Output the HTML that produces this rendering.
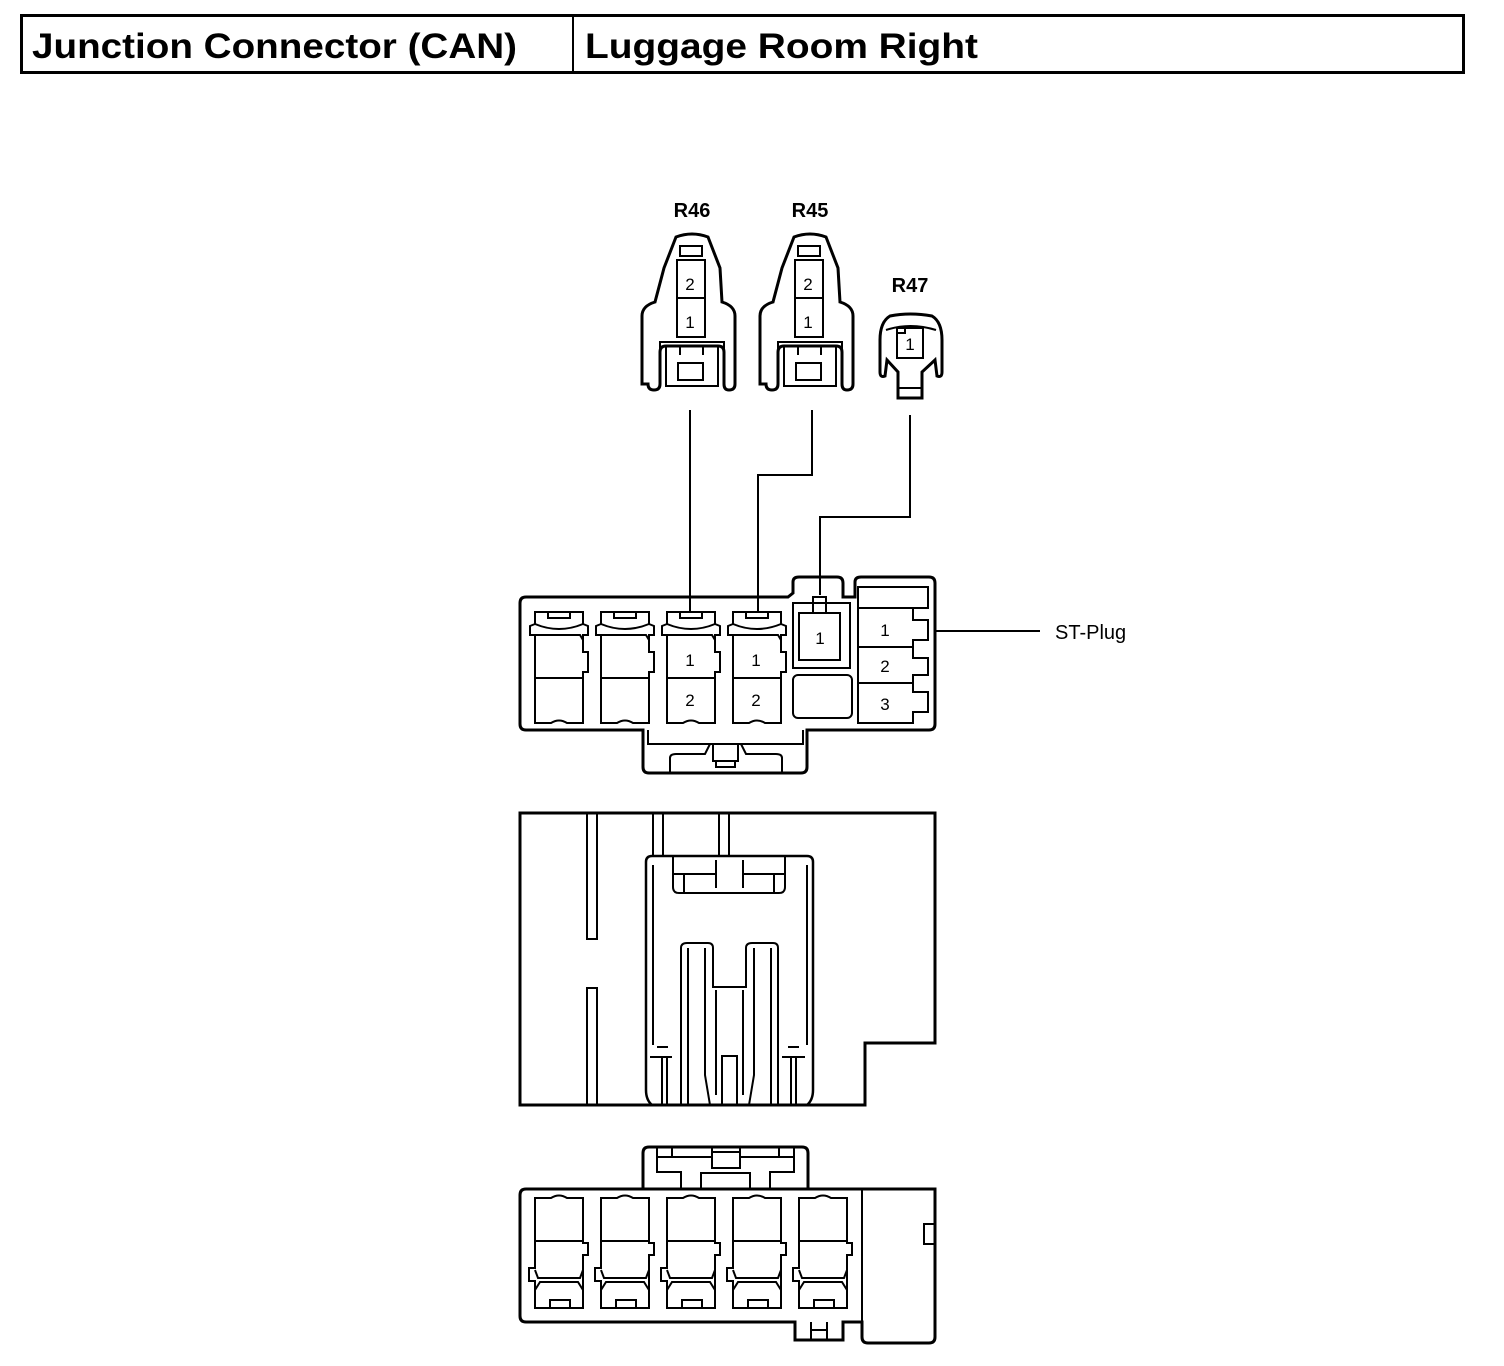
<!DOCTYPE html>
<html><head><meta charset="utf-8"><style>
html,body{margin:0;padding:0;background:#fff;}
svg{display:block;}
text{font-family:"Liberation Sans",Arial,sans-serif;}
</style></head><body>
<svg width="1504" height="1366" viewBox="0 0 1504 1366" xmlns="http://www.w3.org/2000/svg">
<g fill="none" stroke="#000" stroke-width="2">
<rect x="21.5" y="15.5" width="1442" height="57" stroke-width="3"/>
<line x1="573" y1="15" x2="573" y2="73"/>
</g>
<text x="32" y="58" font-size="35" font-weight="bold" textLength="485" lengthAdjust="spacingAndGlyphs">Junction Connector (CAN)</text>
<text x="585" y="58" font-size="35" font-weight="bold" textLength="393" lengthAdjust="spacingAndGlyphs">Luggage Room Right</text>

<text x="692" y="217" font-size="20" font-weight="bold" text-anchor="middle">R46</text>
<text x="810" y="217" font-size="20" font-weight="bold" text-anchor="middle">R45</text>
<text x="910" y="292" font-size="20" font-weight="bold" text-anchor="middle">R47</text>

<defs>
<g id="plug2">
<path d="M676,237 Q692,231 708,237 L720,268 L722,302 Q735,306 735,316 L735,384 Q735,390 729,390 Q724,390 724,384 L724,352 Q724,346 718,346 L666,346 Q660,346 660,352 L660,384 Q660,390 654,390 Q648,390 648,384 L642,384 L642,316 Q642,306 655,302 L664,268 Z" stroke-width="3"/>
<rect x="680" y="246" width="22" height="10"/>
<rect x="677" y="260" width="28" height="77"/>
<line x1="677" y1="298" x2="705" y2="298"/>
<path d="M660,350 L660,342 L724,342 L724,350"/>
<path d="M666,346 L666,386 L718,386 L718,346"/>
<line x1="680" y1="346" x2="680" y2="355"/><line x1="703" y1="346" x2="703" y2="355"/>
<rect x="678" y="363" width="25" height="17"/>
</g>
<g id="cav">
<path d="M0,0 L48,0 L48,12 L53,14 L53,23 L48,23 L48,40 L53,40 L53,60 L48,60 L48,111 L32,111 Q24,106 16,111 L0,111 L0,23 L-5,23 L-5,14 L0,12 Z"/>
<rect x="13" y="0" width="22" height="6"/>
<path d="M0,12 Q24,22 48,12"/>
<line x1="0" y1="66" x2="48" y2="66"/>
<path d="M0,23 L45,23 L48,28"/>
</g>
<g id="cavb">
<path d="M0,0 L16,0 Q24,-5 32,0 L48,0 L48,45 L53,45 L53,57 L48,57 L48,110 L0,110 L0,83 L-6,83 L-6,70 L0,70 Z"/>
<line x1="0" y1="43" x2="48" y2="43"/>
<path d="M0,72 L3,80 L45,80 L48,72"/>
<path d="M0,92 L5,84 L43,84 L48,92"/>
<rect x="15" y="102" width="20" height="8"/>
</g>
</defs>
<g fill="none" stroke="#000" stroke-width="2">
<use href="#plug2"/>
<use href="#plug2" transform="translate(118,0)"/>
<path d="M890,316 Q910,312 932,316 Q942,322 942,340 L942,372 Q942,378 937,376 L935,360 L922,372 L922,398 L898,398 L898,372 L887,360 L885,376 Q880,378 880,372 L880,340 Q880,322 890,316 Z" stroke-width="3"/>
<rect x="897" y="328" width="26" height="30"/>
<rect x="897" y="328" width="8" height="5"/>
<line x1="897" y1="388" x2="922" y2="388"/>
<path d="M886,330 Q910,322 936,330"/>

<line x1="690" y1="410" x2="690" y2="612"/>
<polyline points="812,410 812,475 758,475 758,612"/>
<polyline points="910,415 910,517 820,517 820,595"/>
<line x1="935" y1="631" x2="1040" y2="631"/>

<path d="M526,597 L788,597 L793,593 L793,582 Q793,577 799,577 L837,577 Q843,577 843,583 L843,597 L855,597 L855,582 Q855,577 861,577 L929,577 Q935,577 935,583 L935,724 Q935,730 929,730 L807,730 L807,767 Q807,773 801,773 L649,773 Q643,773 643,767 L643,730 L526,730 Q520,730 520,724 L520,603 Q520,597 526,597 Z" stroke-width="3"/>
<path d="M648,730 L648,744 L803,744 L803,730"/>
<path d="M670,773 L670,758 Q670,754 676,754 L705,754 L710,744 M782,773 L782,758 Q782,754 776,754 L746,754 L741,744"/>
<path d="M713,744 L713,761 L738,761 L738,744 M716,761 L716,767 L735,767 L735,761"/>
<use href="#cav" x="535" y="612"/>
<use href="#cav" x="601" y="612"/>
<use href="#cav" x="667" y="612"/>
<use href="#cav" x="733" y="612"/>
<rect x="793" y="603" width="57" height="65"/>
<rect x="799" y="613" width="41" height="47"/>
<path d="M813,613 L813,597 L826,597 L826,613 M813,603 L826,603"/>
<rect x="793" y="675" width="59" height="43" rx="5"/>
<path d="M858,587 L928,587 L928,608 L858,608 Z"/>
<path d="M858,608 L913,608 L913,620 L928,620 L928,640 L913,640 L913,647 L858,647 Z"/>
<path d="M858,647 L913,647 L913,658 L928,658 L928,675 L913,675 L913,683 L858,683 Z"/>
<path d="M858,683 L913,683 L913,692 L928,692 L928,712 L913,712 L913,723 L858,723 Z"/>
</g>
<g font-size="17" text-anchor="middle">
<text x="690" y="666">1</text><text x="690" y="706">2</text>
<text x="756" y="666">1</text><text x="756" y="706">2</text>
<text x="820" y="644">1</text>
<text x="885" y="636">1</text><text x="885" y="672">2</text><text x="885" y="710">3</text>
<text x="690" y="290">2</text><text x="690" y="328">1</text>
<text x="808" y="290">2</text><text x="808" y="328">1</text>
<text x="910" y="350">1</text>
</g>
<text x="1055" y="639" font-size="20">ST-Plug</text>

<g fill="none" stroke="#000" stroke-width="2">
<path d="M520,813 L935,813 L935,1043 L865,1043 L865,1105 L520,1105 Z" stroke-width="3"/>
<path d="M587,813 L587,939 L597,939 L597,813"/>
<path d="M587,1105 L587,988 L597,988 L597,1105"/>
<path d="M653,813 L653,856 M663,813 L663,856 M719,813 L719,856 M729,813 L729,856"/>
<path d="M652,1105 Q646,1100 646,1090 L646,862 Q646,856 652,856 L807,856 Q813,856 813,862 L813,1090 Q813,1100 807,1105" stroke-width="2.5"/>
<line x1="653" y1="865" x2="653" y2="1045"/><line x1="807" y1="865" x2="807" y2="1045"/>
<path d="M673,856 L673,887 Q673,893 679,893 L779,893 Q785,893 785,887 L785,856"/>
<path d="M673,874 L715,874 M743,874 L785,874 M684,874 L684,893 M774,874 L774,893 M716,860 L716,888 M743,860 L743,888"/>
<path d="M681,1105 L681,948 Q681,943 687,943 L708,943 Q713,943 713,948 L713,987 L746,987 L746,948 Q746,943 752,943 L773,943 Q778,943 778,948 L778,1105"/>
<path d="M688,948 L688,1105 M705,948 L705,1075 L710,1105 M716,990 L716,1095 M743,990 L743,1095 M754,948 L754,1075 L749,1105 M771,948 L771,1105"/>
<rect x="722" y="1056" width="15" height="49"/>
<path d="M657,1047 L668,1047 M650,1057 L672,1057 M662,1057 L662,1105 M667,1057 L667,1105"/>
<path d="M788,1047 L799,1047 M782,1057 L805,1057 M791,1057 L791,1105 M796,1057 L796,1105"/>
</g>

<g fill="none" stroke="#000" stroke-width="2">
<path d="M643,1189 L643,1153 Q643,1147 649,1147 L802,1147 Q808,1147 808,1153 L808,1189" stroke-width="3"/>
<path d="M526,1189 L935,1189 L935,1337 Q935,1343 929,1343 L868,1343 Q862,1343 862,1337 L862,1322 L853,1322 L843,1322 L843,1340 L795,1340 L795,1322 L526,1322 Q520,1322 520,1316 L520,1195 Q520,1189 526,1189 Z" stroke-width="3"/>
<line x1="862" y1="1189" x2="862" y2="1322"/>
<rect x="924" y="1224" width="11" height="20"/>
<path d="M657,1147 L657,1172 L681,1172 L681,1189 M794,1147 L794,1172 L770,1172 L770,1189 M657,1157 L712,1157 L712,1168 L740,1168 L740,1157 L794,1157 M701,1189 L701,1173 L750,1173 L750,1189 M672,1147 L672,1157 M779,1147 L779,1157 M712,1147 L712,1157 M740,1147 L740,1157 M712,1152 L740,1152"/>
<path d="M811,1322 L811,1340 M827,1322 L827,1340 M811,1330 L827,1330"/>
<use href="#cavb" x="535" y="1198"/>
<use href="#cavb" x="601" y="1198"/>
<use href="#cavb" x="667" y="1198"/>
<use href="#cavb" x="733" y="1198"/>
<use href="#cavb" x="799" y="1198"/>
</g>
</svg>
</body></html>
